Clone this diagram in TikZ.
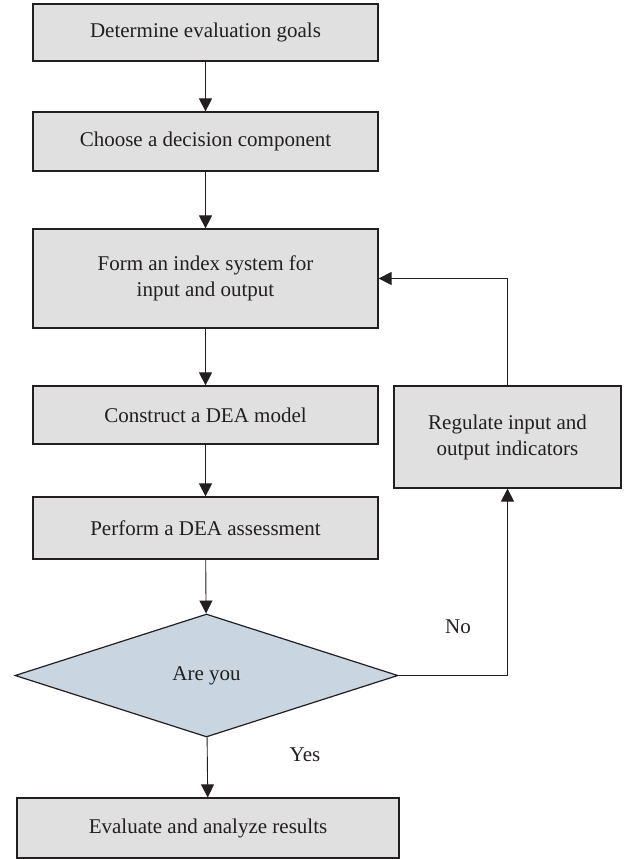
\documentclass[tikz,border=0pt]{standalone}
\usepackage{fontspec}
\setmainfont{Liberation Serif}
\usetikzlibrary{arrows.meta,shapes.geometric,positioning}
\definecolor{boxgray}{RGB}{224,224,224}
\definecolor{askblue}{RGB}{201,213,224}
\definecolor{inkgray}{RGB}{35,31,32}

\begin{document}
\begin{tikzpicture}[>={Triangle[length=13pt,width=13pt]}, line join=miter,
  x=1pt, y=-1pt,
  stepbox/.style={draw=inkgray, fill=boxgray, line width=1.2pt,
    minimum width=345pt, inner sep=0pt, align=center,
    font=\fontsize{21}{26}\selectfont, text=inkgray},
  askbox/.style={diamond, draw=inkgray, fill=askblue, line width=1.2pt,
    minimum width=383pt, minimum height=123pt, inner sep=0pt,
    font=\fontsize{21}{26}\selectfont, text=inkgray},
  flow/.style={->, line width=0.9pt, draw=inkgray},
  tag/.style={font=\fontsize{21}{26}\selectfont, text=inkgray}]

% --- Parameters (px of the page) ---
\def\cx{205.5}   % centre of the main column
\def\rx{507.5}   % centre of the side column

% --- Page ---
\useasboundingbox (0,0) rectangle (627,859);

% --- Main column ---
\node[stepbox, minimum height=57pt] (goals)  at (\cx,32.5) {Determine evaluation goals};
\node[stepbox, minimum height=59pt] (choose) at (\cx,141.5) {Choose a decision component};
\node[stepbox, minimum height=99pt] (index)  at (\cx,278.5) {Form an index system for\\input and output};
\node[stepbox, minimum height=58pt] (model)  at (\cx,415) {Construct a DEA model};
\node[stepbox, minimum height=62pt] (assess) at (\cx,528) {Perform a DEA assessment};
\node[askbox] (check) at (206.5,675.5) {Are you};
\node[stepbox, minimum width=382pt, minimum height=60pt] (results) at (208,828) {Evaluate and analyze results};

% --- Side column ---
\node[stepbox, minimum width=227pt, minimum height=102pt] (adjust) at (\rx,437) {Regulate input and\\output indicators};

% --- Connectors ---
\draw[flow] (goals) -- (choose);
\draw[flow] (choose) -- (index);
\draw[flow] (index) -- (model);
\draw[flow] (model) -- (assess);
\draw[flow] (assess) -- (check);
\draw[flow] (check) -- (results);
\draw[flow] (check.east) -| (adjust.south);
\draw[flow] (adjust.north) |- (index.east);

% --- Branch labels ---
\node[tag] (no)  at (458,627) {No};
\node[tag] (yes) at (305,755) {Yes};

\end{tikzpicture}
\end{document}
